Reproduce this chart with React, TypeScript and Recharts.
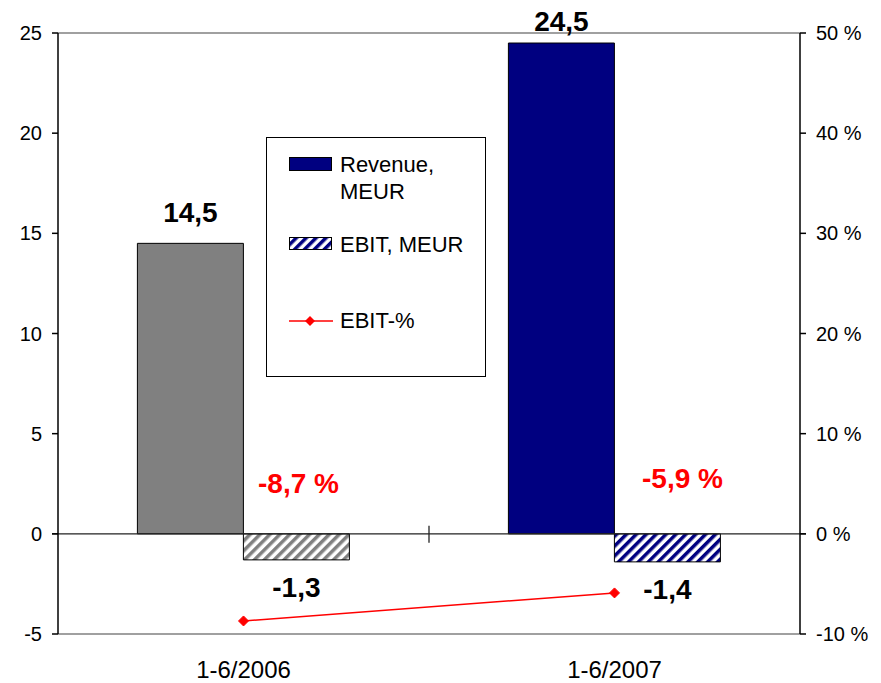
import React from 'react';
import {
  ComposedChart,
  Bar,
  Line,
  XAxis,
  YAxis,
  Cell,
  Legend,
  LabelList,
  ReferenceLine,
} from 'recharts';

// Half-year figures
const categories = ['1-6/2006', '1-6/2007'];
const revenue = [14.5, 24.5];
const ebit = [-1.3, -1.4];
const ebitPct = [-8.7, -5.9];
const leftTicks = [-5, 0, 5, 10, 15, 20, 25];
const rightTicks = [-10, 0, 10, 20, 30, 40, 50];
const legendNames = ['Revenue,', 'MEUR', 'EBIT, MEUR', 'EBIT-%'];

const data = categories.map((name, i) => ({
  name,
  revenue: revenue[i],
  ebit: ebit[i],
  ebitPct: ebitPct[i],
}));

const FONT = '"Liberation Sans", Arial, Helvetica, sans-serif';
const NAVY = '#000080';
const GREY = '#808080';
const RED = '#FF0000';

const revenueFills = [GREY, NAVY];
const ebitFills = ['url(#hatchGrey)', 'url(#hatchNavy)'];

const fmt = (v: number) => v.toFixed(1).replace('.', ',');

const Hatch = ({ id, color }: { id: string; color: string }) => (
  <pattern id={id} width={7} height={7} patternUnits="userSpaceOnUse" patternTransform="rotate(45)">
    <rect x={0} y={0} width={7} height={7} fill="#fff" />
    <rect x={0} y={0} width={3.5} height={7} fill={color} />
  </pattern>
);

const Diamond = (props: any) => {
  const { cx, cy } = props;
  if (cx == null || cy == null) return null;
  const r = 5;
  return (
    <polygon
      points={`${cx},${cy - r} ${cx + r},${cy} ${cx},${cy + r} ${cx - r},${cy}`}
      fill={RED}
      stroke={RED}
    />
  );
};

// Zero axis with a small divider tick between the two periods
const ZeroAxis = (props: any) => {
  const { x1, y1, x2, y2 } = props;
  const mid = (x1 + x2) / 2;
  return (
    <g>
      <line x1={x1 - 6} y1={y1} x2={x2 + 6} y2={y2} stroke="#222" strokeWidth={1.3} />
      <line x1={mid} y1={y1 - 8} x2={mid} y2={y1 + 9} stroke="#222" strokeWidth={1.3} />
    </g>
  );
};

const RevenueLabel = (props: any) => {
  const { x, y, width, height, value } = props;
  const top = Math.min(y, y + height);
  const baseline = Math.max(top - 21, 31);
  return (
    <text x={x + width / 2} y={baseline} textAnchor="middle" fontSize={28} fontWeight="bold" fill="#000" fontFamily={FONT}>
      {fmt(value)}
    </text>
  );
};

const EbitLabel = (props: any) => {
  const { x, y, width, height, value } = props;
  const bottom = Math.max(y, y + height);
  return (
    <text x={x + width / 2} y={bottom + 37} textAnchor="middle" fontSize={28} fontWeight="bold" fill="#000" fontFamily={FONT}>
      {fmt(value)}
    </text>
  );
};

// Percentage labels sit above-right of each point
const pctOffsets = [
  { dx: 55, dy: -128 },
  { dx: 68, dy: -105 },
];
const PctLabel = (props: any) => {
  const { x, y, value, index } = props;
  const o = pctOffsets[index] || { dx: 0, dy: -20 };
  return (
    <text x={x + o.dx} y={y + o.dy} textAnchor="middle" fontSize={28} fontWeight="bold" fill={RED} fontFamily={FONT}>
      {`${fmt(value)} %`}
    </text>
  );
};

const LegendBox = () => (
  <div
    style={{
      width: 220,
      height: 240,
      border: '1px solid #000',
      boxSizing: 'border-box',
      background: '#fff',
      position: 'relative',
    }}
  >
    <svg width={220} height={240} style={{ position: 'absolute', left: -1, top: -1 }}>
      <defs>
        <Hatch id="legendHatchNavy" color={NAVY} />
      </defs>
      <g fontFamily={FONT} fontSize={22} fill="#000">
        <rect x={23.5} y={20.5} width={42} height={13} fill={NAVY} stroke="#000" />
        <text x={74} y={35}>{legendNames[0]}</text>
        <text x={74} y={62}>{legendNames[1]}</text>
        <rect x={23.5} y={100.5} width={42} height={12} fill="url(#legendHatchNavy)" stroke="#000" />
        <text x={74} y={115}>{legendNames[2]}</text>
        <line x1={23} y1={184} x2={67} y2={184} stroke={RED} strokeWidth={1.5} />
        <polygon points="44,179 49,184 44,189 39,184" fill={RED} />
        <text x={74} y={191}>{legendNames[3]}</text>
      </g>
    </svg>
  </div>
);

const tickStyle = { fontSize: 20, fill: '#000', fontFamily: FONT };

export default function App() {
  return (
    <div style={{ position: 'absolute', left: 0, top: 0, background: '#fff' }}>
      <ComposedChart
        width={881}
        height={683}
        data={data}
        margin={{ top: 33, right: 0, bottom: 0, left: 0 }}
        barCategoryGap="21.4%"
        barGap={0}
        style={{ fontFamily: FONT }}
      >
        <defs>
          <Hatch id="hatchGrey" color={GREY} />
          <Hatch id="hatchNavy" color={NAVY} />
        </defs>
        <XAxis
          dataKey="name"
          height={49}
          axisLine={false}
          tickLine={false}
          tickMargin={21}
          tick={{ fontSize: 24, fill: '#000', fontFamily: FONT }}
          interval={0}
        />
        <YAxis
          yAxisId="left"
          width={58}
          domain={[-5, 25]}
          ticks={leftTicks}
          interval={0}
          axisLine={{ stroke: '#000', strokeWidth: 1.5 }}
          tickLine={{ stroke: '#000', strokeWidth: 1.5 }}
          tickSize={6}
          tickMargin={10}
          tick={tickStyle}
        />
        <YAxis
          yAxisId="right"
          orientation="right"
          width={81}
          domain={[-10, 50]}
          ticks={rightTicks}
          interval={0}
          axisLine={{ stroke: '#000', strokeWidth: 1.5 }}
          tickLine={{ stroke: '#000', strokeWidth: 1.5 }}
          tickSize={6}
          tickMargin={10}
          tick={tickStyle}
          tickFormatter={(v: number) => `${v} %`}
        />
        <ReferenceLine yAxisId="left" y={25} stroke={GREY} strokeWidth={1.5} />
        <ReferenceLine yAxisId="left" y={-5} stroke={GREY} strokeWidth={1.5} />
        <Bar yAxisId="left" dataKey="revenue" stroke="#000" strokeWidth={1} isAnimationActive={false}>
          {data.map((_, i) => (
            <Cell key={`r${i}`} fill={revenueFills[i]} />
          ))}
          <LabelList dataKey="revenue" content={RevenueLabel} />
        </Bar>
        <Bar yAxisId="left" dataKey="ebit" stroke="#000" strokeWidth={1} isAnimationActive={false}>
          {data.map((_, i) => (
            <Cell key={`e${i}`} fill={ebitFills[i]} />
          ))}
          <LabelList dataKey="ebit" content={EbitLabel} />
        </Bar>
        <ReferenceLine yAxisId="left" y={0} shape={ZeroAxis} />
        <Line
          yAxisId="right"
          dataKey="ebitPct"
          stroke={RED}
          strokeWidth={1.5}
          dot={<Diamond />}
          activeDot={false}
          isAnimationActive={false}
        >
          <LabelList dataKey="ebitPct" content={PctLabel} />
        </Line>
        <Legend
          layout="horizontal"
          verticalAlign="middle"
          align="center"
          wrapperStyle={{ position: 'absolute', left: 266, top: 137, width: 220, height: 240, margin: 0, padding: 0 }}
          content={() => <LegendBox />}
        />
      </ComposedChart>
    </div>
  );
}
